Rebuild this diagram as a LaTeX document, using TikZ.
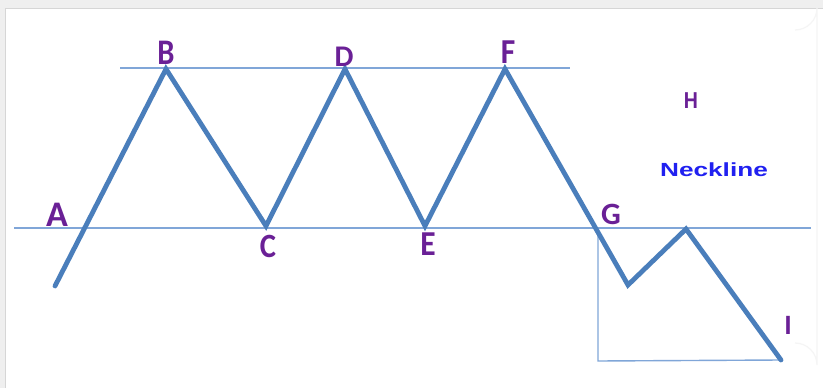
\documentclass[tikz,border=0pt]{standalone}
\usepackage{fontspec}
\setmainfont{Carlito}
\newfontfamily\arialb{Liberation Sans}
\definecolor{zig}{HTML}{4A7EBB}
\definecolor{thin}{HTML}{80A6D8}
\definecolor{lbl}{HTML}{6A2096}
\definecolor{neck}{HTML}{2020F0}
\definecolor{bgg}{HTML}{EFEFEF}
\definecolor{pborder}{HTML}{D6D6D6}
\begin{document}
\begin{tikzpicture}[x=1pt,y=-1pt,
  zigline/.style={draw=zig,line width=4.8pt,line join=miter,line cap=round},
  thinline/.style={draw=thin,line width=1.4pt},
  ptlabel/.style={text=lbl,font=\bfseries,inner sep=0pt,anchor=center}]
\useasboundingbox (0,0) rectangle (823,388);
\fill[bgg] (0,0) rectangle (823,388);
\fill[white] (5,8) rectangle (823,388);
\draw[pborder,line width=1pt] (5,388) -- (5,8) -- (823,8);
\draw[gray!8,line width=1.2pt] (795,30) arc[start angle=90,end angle=0,radius=22] -- (817,365) arc[start angle=0,end angle=-90,radius=22];
% points
\coordinate (S) at (55,286);
\coordinate (B) at (166,69);
\coordinate (C) at (266,226);
\coordinate (D) at (345,69);
\coordinate (E) at (425,226);
\coordinate (F) at (505,69);
\coordinate (G) at (598,228);
\coordinate (T) at (628,285);
\coordinate (P) at (686,229);
\coordinate (Iend) at (781,360);
\coordinate (Gb) at (598,361);
\coordinate (NL) at (14,228);
\coordinate (NR) at (811,228);
\coordinate (TL) at (120,68);
\coordinate (TR) at (570,68);
% lines
\draw[thinline] (NL) -- (NR);
\draw[thinline] (TL) -- (TR);
\draw[thinline] (G) -- (Gb) -- (Iend);
\draw[zigline] (S) -- (B) -- (C) -- (D) -- (E) -- (F) -- (T) -- (P) -- (Iend);
% labels
\node[ptlabel,font=\bfseries\fontsize{36}{36}\selectfont] (lA) at (57,215) {A};
\node[ptlabel,font=\bfseries\fontsize{36}{36}\selectfont,xscale=0.85] (lB) at (166,53) {B};
\node[ptlabel,font=\bfseries\fontsize{34}{34}\selectfont,xscale=0.9] (lC) at (268,246) {C};
\node[ptlabel,font=\bfseries\fontsize{30}{30}\selectfont] (lD) at (344,57) {D};
\node[ptlabel,font=\bfseries\fontsize{35}{35}\selectfont,xscale=0.9] (lE) at (428,244) {E};
\node[ptlabel,font=\bfseries\fontsize{35}{35}\selectfont,xscale=0.9] (lF) at (508,52) {F};
\node[ptlabel,font=\bfseries\fontsize{31}{31}\selectfont] (lG) at (611,214) {G};
\node[ptlabel,font=\bfseries\fontsize{28}{28}\selectfont] (lI) at (788,325) {I};
\node[ptlabel,font=\arialb\bfseries\fontsize{23}{23}\selectfont,xscale=0.85] (lH) at (691,101) {H};
\node[inner sep=0pt,anchor=center,text=neck,font=\arialb\bfseries\fontsize{19}{19}\selectfont,xscale=1.38] (nk) at (714,170) {Neckline};
\end{tikzpicture}
\end{document}
